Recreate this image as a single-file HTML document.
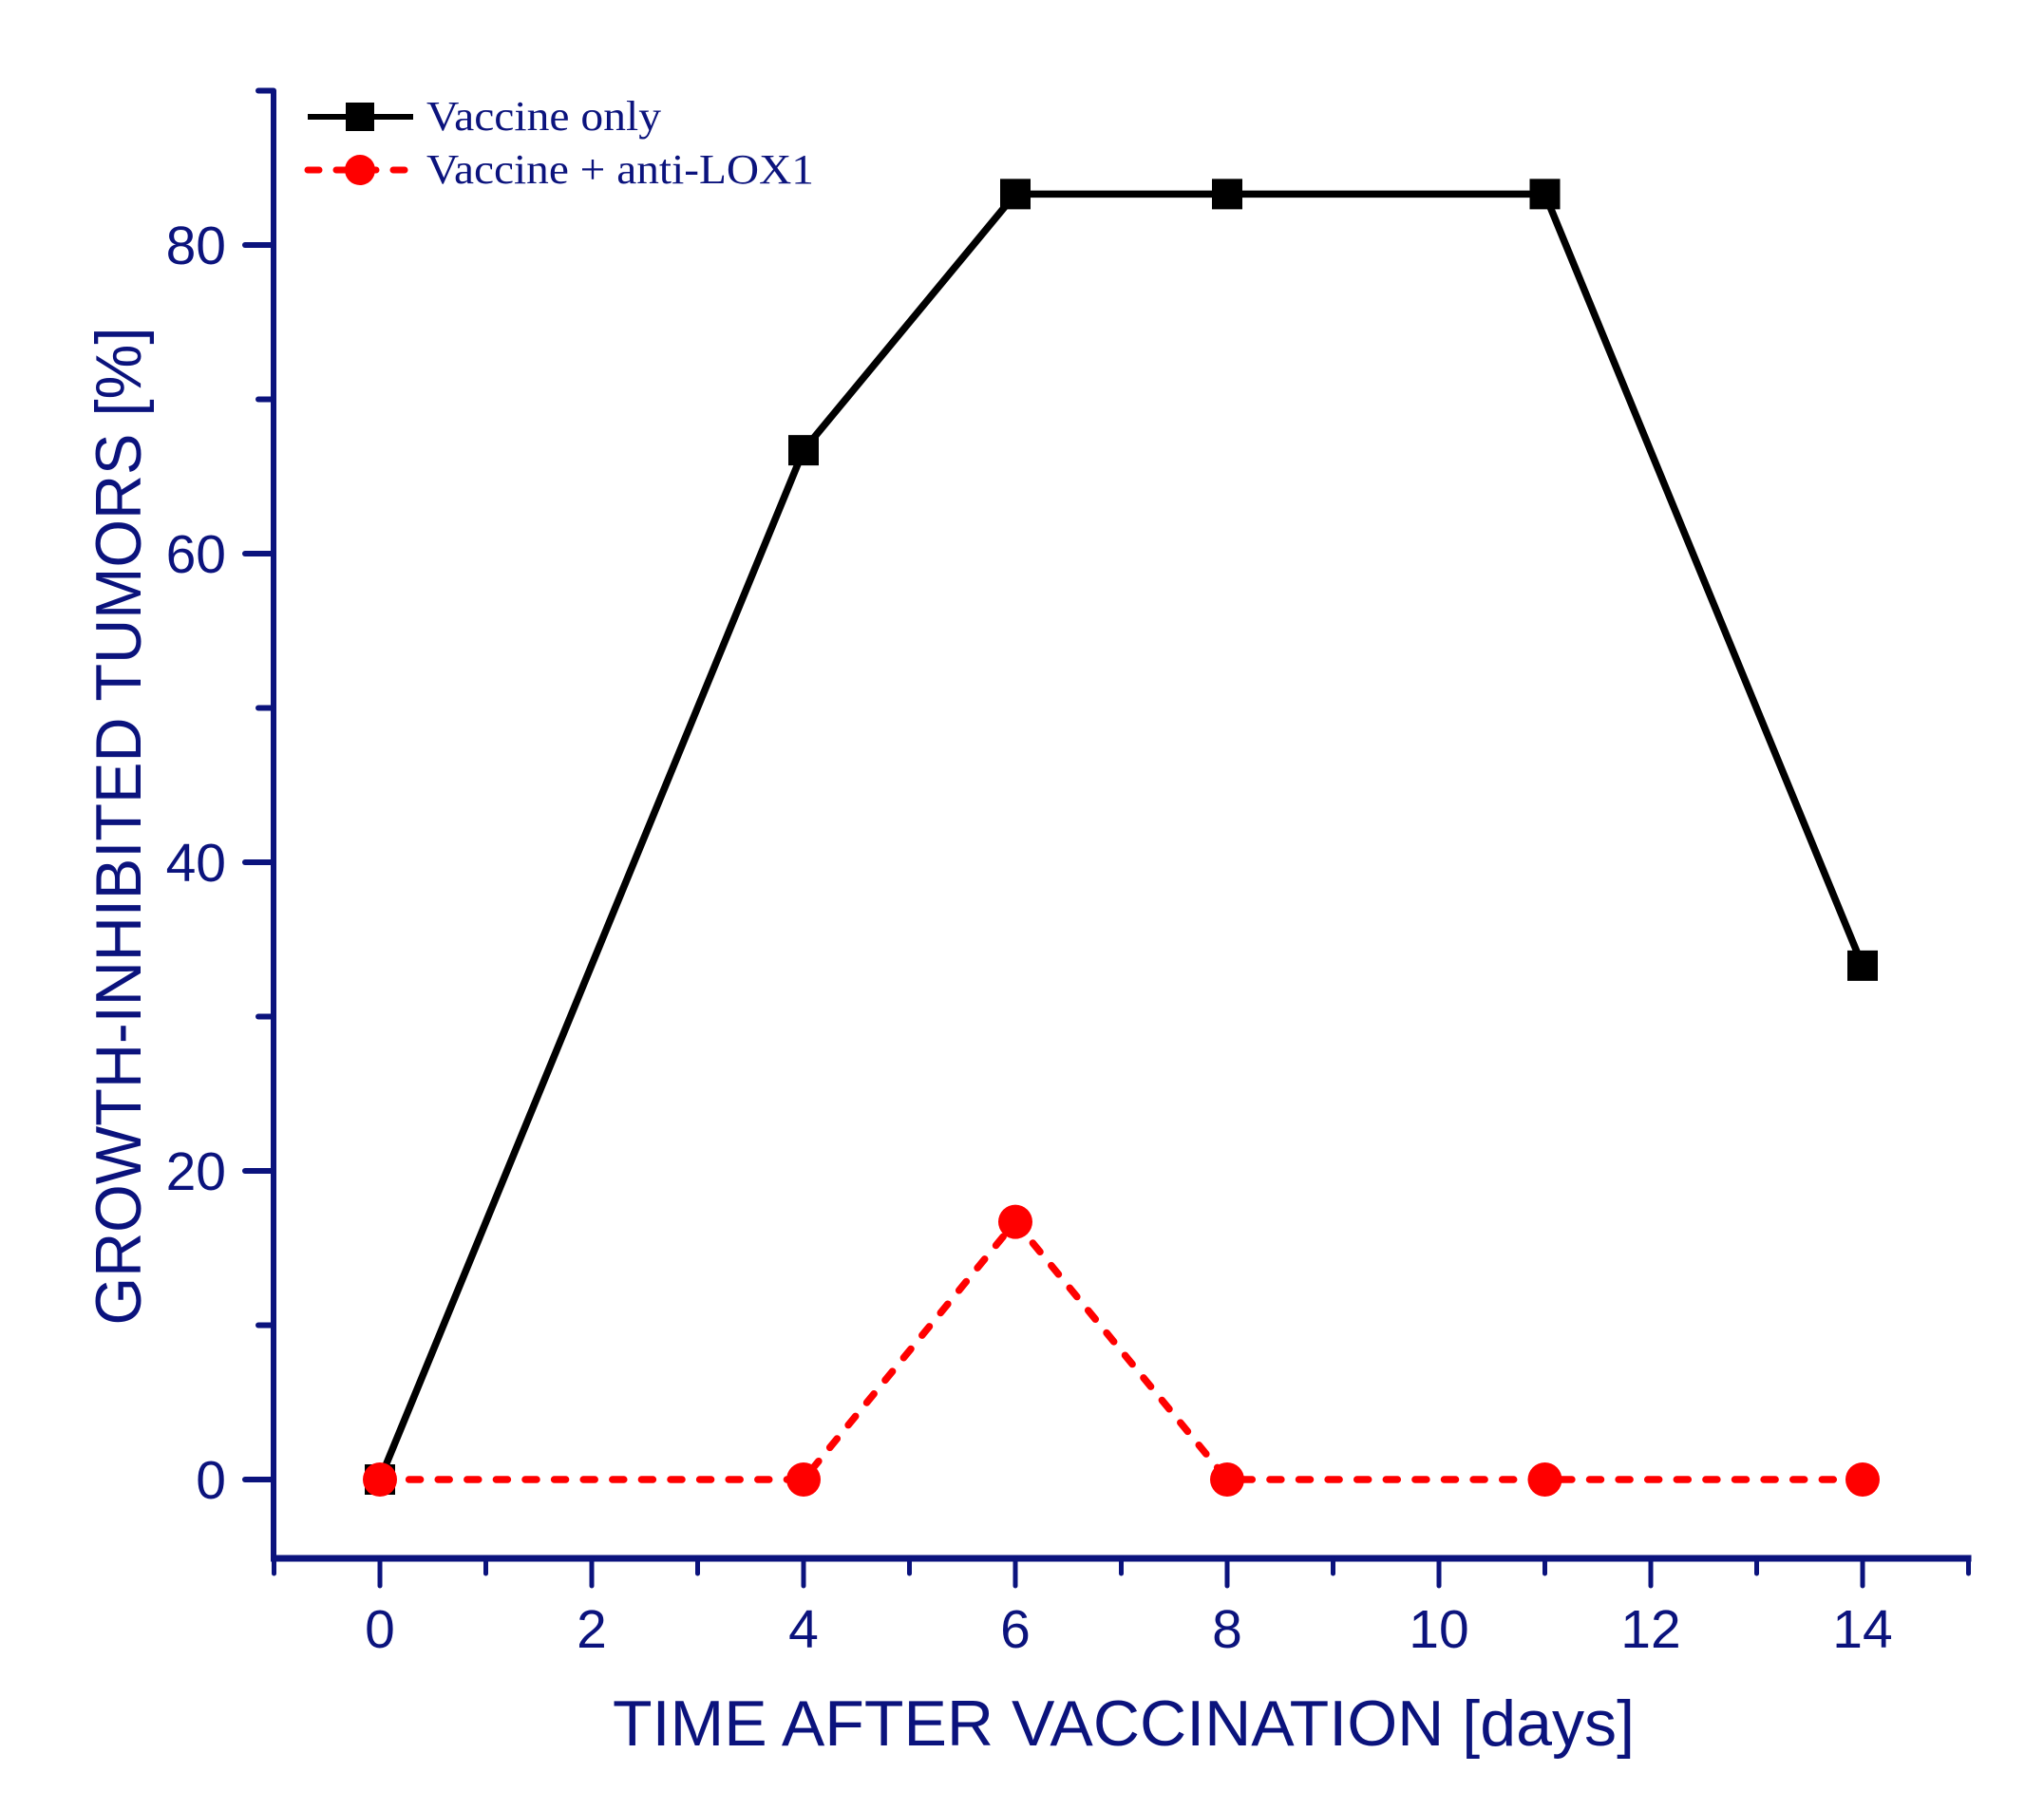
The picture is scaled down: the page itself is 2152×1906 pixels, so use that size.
<!DOCTYPE html>
<html><head><meta charset="utf-8"><style>
html,body{margin:0;padding:0;background:#fff;}
svg{display:block;}
text{font-family:"Liberation Sans",sans-serif;fill:#0b137d;}
</style></head><body>
<svg id="chart" width="2152" height="1906" viewBox="0 0 2152 1906" xmlns="http://www.w3.org/2000/svg">
<g id="axes"></g>
<g id="series"></g>
<text x="1183" y="1838" font-size="68" text-anchor="middle" textLength="1076" lengthAdjust="spacingAndGlyphs">TIME AFTER VACCINATION [days]</text>
<text transform="translate(148,870) rotate(-90)" font-size="68" text-anchor="middle" textLength="1051" lengthAdjust="spacingAndGlyphs">GROWTH-INHIBITED TUMORS [%]</text>
<g>
  <g>
    <line x1="324" y1="123" x2="435" y2="123" stroke="#000" stroke-width="6"/>
    <rect x="364" y="108" width="30" height="30" fill="#000"/>
    <text x="449" y="137" font-size="44" style="font-family:'Liberation Serif',serif" textLength="247" lengthAdjust="spacingAndGlyphs">Vaccine only</text>
  </g>
  <g>
    <line x1="324" y1="179" x2="435" y2="179" stroke="#f00" stroke-width="7" stroke-dasharray="12 18" stroke-linecap="round"/>
    <circle cx="379" cy="179" r="16" fill="#f00"/>
    <text x="449" y="193" font-size="44" style="font-family:'Liberation Serif',serif" textLength="408" lengthAdjust="spacingAndGlyphs">Vaccine + anti-LOX1</text>
  </g>
</g>
</svg>
<script>
const days = [0, 4, 6, 8, 11, 14];
const vaccineOnly = [0, 66.7, 83.3, 83.3, 83.3, 33.3];
const vaccineAntiLox = [0, 0, 16.7, 0, 0, 0];
const xTickLabels = [0, 2, 4, 6, 8, 10, 12, 14];
const yTickLabels = [0, 20, 40, 60, 80];

const NS = 'http://www.w3.org/2000/svg';
const X0 = 400, XPD = 111.5;
const Y0 = 1558, YPU = (1558 - 1233) / 20;
function xs(v){ return X0 + v * XPD; }
function ys(v){ return Y0 - v * YPU; }
function mk(tag, attrs, parent){
  const e = document.createElementNS(NS, tag);
  for (const k in attrs) e.setAttribute(k, attrs[k]);
  parent.appendChild(e); return e;
}
const C = '#0b137d';
const axes = document.getElementById('axes');
const ax = mk('line', {x1:288, y1:95, x2:288, y2:1643, stroke:C, 'stroke-width':6}, axes);


const bx = mk('line', {x1:285, y1:1641, x2:xs(15)+3, y2:1641, stroke:C, 'stroke-width':7}, axes);


for (let v = 0; v <= 90; v += 10) {
  const major = v % 20 === 0;
  if (ys(v) < 95) continue;
  const t = mk('line', {x1:288, y1:ys(v), x2: major ? 258 : 272, y2:ys(v), stroke:C, 'stroke-width':6, 'stroke-linecap':'round'}, axes);
  
  
}
yTickLabels.forEach(v => {
  const t = mk('text', {x:238, y:ys(v) + 20, 'font-size':57, 'text-anchor':'end'}, axes);
  t.textContent = v;
  
  
});
for (let v = -1; v <= 15; v += 1) {
  const major = v % 2 === 0;
  const t = mk('line', {x1:xs(v), y1:1641, x2:xs(v), y2: major ? 1670 : 1657, stroke:C, 'stroke-width':5, 'stroke-linecap':'round'}, axes);
  
  
}
xTickLabels.forEach(v => {
  const t = mk('text', {x:xs(v), y:1735, 'font-size':57, 'text-anchor':'middle'}, axes);
  t.textContent = v;
  
  
});
const sg = document.getElementById('series');
const p1 = mk('polyline', {points: days.map((d,i)=>xs(d)+','+ys(vaccineOnly[i])).join(' '), fill:'none', stroke:'#000', 'stroke-width':7.5, 'stroke-linejoin':'miter'}, sg);


days.forEach((d,i) => {
  const r = mk('rect', {x:xs(d)-16, y:ys(vaccineOnly[i])-16, width:32, height:32, fill:'#000'}, sg);
  
  
});
const p2 = mk('polyline', {points: days.map((d,i)=>xs(d)+','+ys(vaccineAntiLox[i])).join(' '), fill:'none', stroke:'#f00', 'stroke-width':7.5, 'stroke-dasharray':'12 18.6', 'stroke-linecap':'round'}, sg);


days.forEach((d,i) => {
  const c = mk('circle', {cx:xs(d), cy:ys(vaccineAntiLox[i]), r:18, fill:'#f00'}, sg);
  
  
});
</script>
</body></html>
